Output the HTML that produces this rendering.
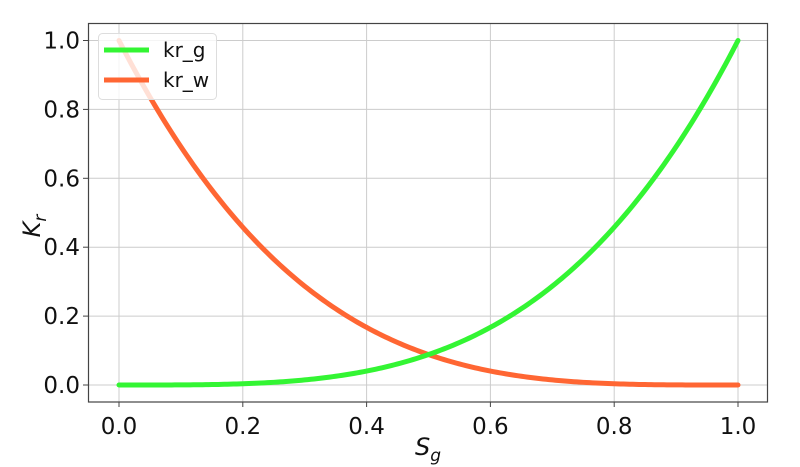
<!DOCTYPE html>
<html><head><style>body{margin:0;background:#fff}svg{display:block}text{font-family:"DejaVu Sans","Liberation Sans",sans-serif;fill:#111}</style></head>
<body>
<svg id="s" width="800" height="467" viewBox="0 0 800 467">
<rect x="0" y="0" width="800" height="467" fill="#fff"/>
<g id="grid" stroke="#cccccc" stroke-width="1"></g>
<path id="w" fill="none" stroke="#ff6633" stroke-width="5" stroke-linecap="round"/>
<path id="g" fill="none" stroke="#33f533" stroke-width="5" stroke-linecap="round"/>
<rect x="88.5" y="23.5" width="679" height="378.5" fill="none" stroke="#444" stroke-width="1.2"/>
<g id="ticks" font-size="23"></g>
<rect x="98.5" y="33.5" width="118" height="66" rx="4" fill="#fff" fill-opacity="0.8" stroke="#ddd"/>
<line x1="104" y1="50" x2="149" y2="50" stroke="#33f533" stroke-width="5"/>
<line x1="104" y1="80" x2="149" y2="80" stroke="#ff6633" stroke-width="5"/>
<text x="163" y="57" font-size="20">kr_g</text>
<text x="163" y="87" font-size="20">kr_w</text>
<text x="415" y="455" font-size="24" font-style="italic">S<tspan font-size="17" dy="6">g</tspan></text>
<text transform="translate(40,226) rotate(-90)" font-size="24" font-style="italic" text-anchor="middle">K<tspan font-size="17" dy="6">r</tspan></text>
</svg>
<script>
var X=v=>119+v*619, Y=v=>385-v*344.5, ns="http://www.w3.org/2000/svg";
var grid=document.getElementById('grid'),ticks=document.getElementById('ticks');
function el(p,t,a,txt){var e=document.createElementNS(ns,t);for(var k in a)e.setAttribute(k,a[k]);if(txt)e.textContent=txt;p.appendChild(e);}
for(var i=0;i<=5;i++){var v=i*0.2,x=X(v),y=Y(v);
el(grid,'line',{x1:x,x2:x,y1:23.5,y2:402});
el(grid,'line',{x1:88.5,x2:767.5,y1:y,y2:y});
el(ticks,'line',{x1:x,x2:x,y1:402,y2:407,stroke:'#444'});
el(ticks,'line',{x1:83,x2:88.5,y1:y,y2:y,stroke:'#444'});
el(ticks,'text',{x:x,y:434,'text-anchor':'middle'},v.toFixed(1));
el(ticks,'text',{x:80,y:y+8,'text-anchor':'end'},v.toFixed(1));}
var g='',w='';for(var j=0;j<=200;j++){var s=j/200;g+=(j?'L':'M')+X(s).toFixed(2)+','+Y(Math.pow(s,3.5)).toFixed(2);w+=(j?'L':'M')+X(s).toFixed(2)+','+Y(Math.pow(1-s,3.5)).toFixed(2);}
document.getElementById('g').setAttribute('d',g);document.getElementById('w').setAttribute('d',w);
</script>
</body></html>
